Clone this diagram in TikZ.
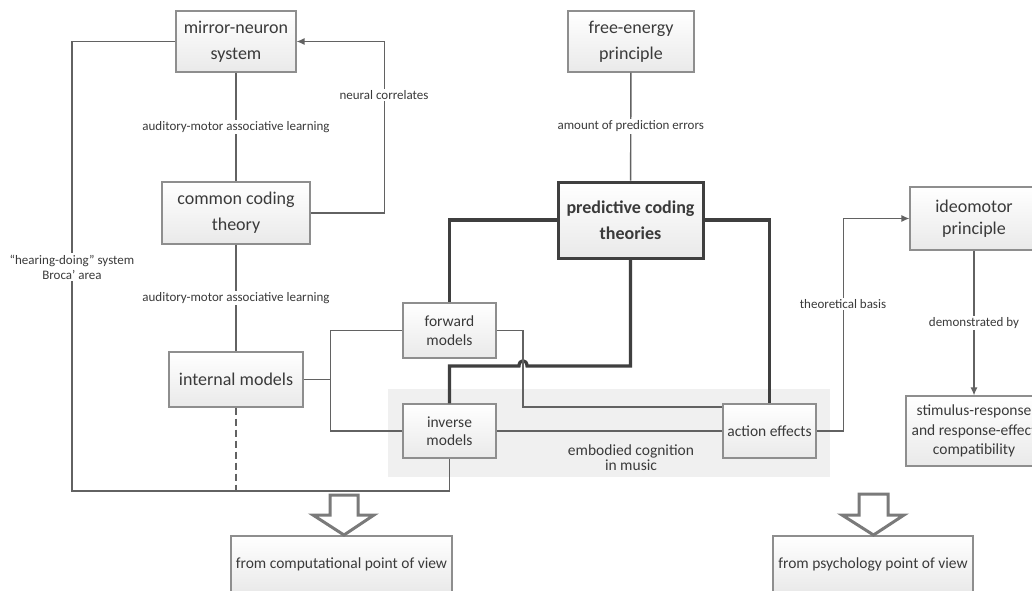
\documentclass[tikz,border=0pt]{standalone}
\usepackage{fontspec}
\setmainfont{Carlito}
\usetikzlibrary{arrows.meta}
\definecolor{txt}{HTML}{3A3A3A}
\definecolor{bord}{HTML}{8E8E8E}
\definecolor{lnc}{HTML}{626262}
\definecolor{thkc}{HTML}{3F3F3F}
\definecolor{bgband}{HTML}{F0F0F0}
\definecolor{blkc}{HTML}{7A7A7A}
\begin{document}
\begin{tikzpicture}[x=1pt,y=-1pt,
  box/.style={draw=bord,line width=1.1pt,top color=white,bottom color=gray!17,text=txt,inner sep=0pt,align=center,font=\fontsize{18}{26}\selectfont},
  mbox/.style={box,font=\fontsize{15.5}{18.5}\selectfont},
  lbl/.style={fill=white,text=txt,font=\fontsize{13}{15}\selectfont,inner sep=1.5pt,align=center},
  ln/.style={draw=lnc,line width=1.4pt},
  thk/.style={draw=thkc,line width=3.2pt},
  arr/.style={-{Latex[length=8pt,width=7pt]}},
  blk/.style={draw=blkc,line width=3pt,fill=white,line join=miter}]
\clip (0,0) rectangle (1032,590);
\fill[white] (0,0) rectangle (1032,590);
% background band
\fill[bgband] (388,389) rectangle (830,477);
\node[font=\fontsize{15.5}{15}\selectfont,text=txt,align=center] (emb) at (631,457.5) {embodied cognition\\in music};
% boxes
\node[box,minimum width=120pt,minimum height=61pt] (mirror) at (236,41.5) {mirror-neuron\\system};
\node[box,minimum width=126pt,minimum height=61pt] (free) at (631,41.5) {free-energy\\principle};
\node[box,minimum width=148pt,minimum height=62pt] (common) at (236,213) {common coding\\theory};
\node[box,draw=thkc,line width=3pt,minimum width=145pt,minimum height=76pt,font=\bfseries\fontsize{18}{26}\selectfont] (pct) at (630.5,220) {predictive coding\\theories};
\node[box,minimum width=134pt,minimum height=55pt] (internal) at (236,379.5) {internal models};
\node[mbox,minimum width=93pt,minimum height=55pt] (forward) at (449.5,330.5) {forward\\models};
\node[mbox,minimum width=93pt,minimum height=54pt] (inverse) at (449.5,431) {inverse\\models};
\node[mbox,minimum width=93pt,minimum height=54pt] (action) at (769.5,431) {action effects};
\node[box,minimum width=128pt,minimum height=63pt,font=\fontsize{18}{22}\selectfont] (ideo) at (974,218.5) {ideomotor\\principle};
\node[box,minimum width=136pt,minimum height=70pt,font=\fontsize{15.5}{19.5}\selectfont] (stim) at (974,431) {stimulus-response\\and response-effect\\compatibility};
\node[box,minimum width=221pt,minimum height=56pt,font=\fontsize{15.5}{18}\selectfont] (comp) at (341.5,564) {from computational point of view};
\node[box,minimum width=200pt,minimum height=56pt,font=\fontsize{15.5}{18}\selectfont] (psych) at (873,564) {from psychology point of view};
% connectors left
\coordinate (rl) at (72,491);
\draw[ln] (mirror.west) -| (rl) -| (inverse.south);
\node[lbl] (hd) at (72,267) {“hearing-doing” system\\Broca’ area};
\draw[ln,dash pattern=on 7pt off 4pt] (internal.south) -- (internal.south |- rl);
\draw[ln] (mirror) -- node[lbl]{auditory-motor associative learning} (common);
\draw[ln] (common) -- node[lbl]{auditory-motor associative learning} (internal);
\draw[ln,arr] (common.east) -- ++(74,0) coordinate (nc) |- (mirror.east);
\node[lbl] (ncl) at (384,95) {neural correlates};
\draw[ln] (free) -- node[lbl]{amount of prediction errors} (pct);
\draw[ln] (internal.east) -- ++(27,0) coordinate (j) |- (forward.west);
\draw[ln] (j) |- (inverse.west);
% thick connectors
\draw[thk] (pct.west) -| (forward.north);
\draw[thk] (pct.east) -| (action.north);
\coordinate (h) at (630.5,366);
\draw[thk] (pct.south) -- (h) -- (527,366) .. controls (527,359) and (519,359) .. (519,366) -| (inverse.north);
% thin connectors to action
\coordinate (fa) at (523,407);
\draw[ln] (forward.east) -| (fa) -- (fa -| action.west);
\draw[ln] (inverse.east) -- (action.west);
\draw[ln,arr] (action.east) -- ++(27,0) coordinate (tb) |- (ideo.west);
\node[lbl] (tbl) at (843,304) {theoretical basis};
\draw[ln,arr] (ideo) -- node[lbl]{demonstrated by} (stim);
% block arrows
\draw[blk] (330,495) -- (358,495) -- (358,515) -- (374,515) -- (344,535) -- (313,515) -- (330,515) -- cycle;
\draw[blk] (859,494) -- (888,494) -- (888,515) -- (904,515) -- (873.5,535) -- (842,515) -- (859,515) -- cycle;
\end{tikzpicture}
\end{document}
